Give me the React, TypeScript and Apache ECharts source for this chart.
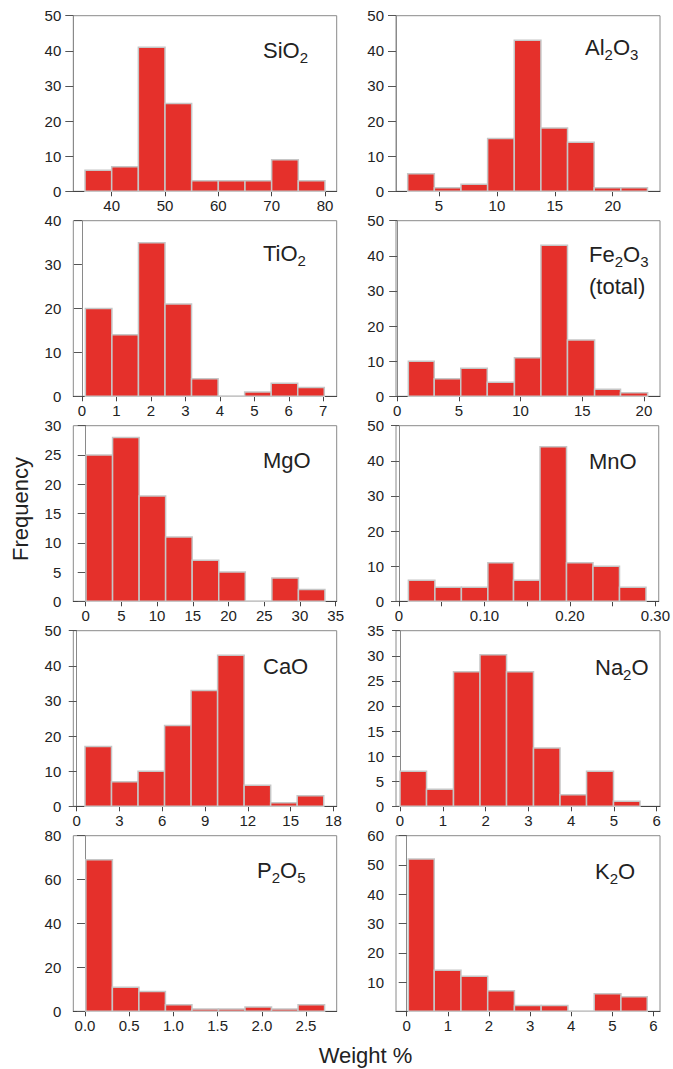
import React, { useEffect, useRef } from 'react';
import * as echarts from 'echarts';

// ---- data (bin edges, counts per bin) ----
const sio2Edges = [35, 40, 45, 50, 55, 60, 65, 70, 75, 80];
const sio2Counts = [6, 7, 41, 25, 3, 3, 3, 9, 3];
const sio2Ticks = [40, 50, 60, 70, 80];

const al2o3Edges = [2.3, 4.6, 6.9, 9.2, 11.5, 13.8, 16.1, 18.4, 20.7, 23.0];
const al2o3Counts = [5, 1, 2, 15, 43, 18, 14, 1, 1];
const al2o3Ticks = [5, 10, 15, 20];

const tio2Edges = [0.1, 0.87, 1.64, 2.41, 3.18, 3.95, 4.72, 5.49, 6.26, 7.03];
const tio2Counts = [20, 14, 35, 21, 4, 0, 1, 3, 2];
const tio2Ticks = [0, 1, 2, 3, 4, 5, 6, 7];

const fe2o3Edges = [0.9, 3.0, 5.15, 7.3, 9.5, 11.65, 13.8, 16.0, 18.1, 20.3];
const fe2o3Counts = [10, 5, 8, 4, 11, 43, 16, 2, 1];
const fe2o3Ticks = [0, 5, 10, 15, 20];

const mgoEdges = [0.04, 3.76, 7.48, 11.19, 14.91, 18.63, 22.35, 26.07, 29.79, 33.5];
const mgoCounts = [25, 28, 18, 11, 7, 5, 0, 4, 2];
const mgoTicks = [0, 5, 10, 15, 20, 25, 30, 35];

const mnoEdges = [0.011, 0.042, 0.073, 0.104, 0.134, 0.165, 0.196, 0.227, 0.258, 0.289];
const mnoCounts = [6, 4, 4, 11, 6, 44, 11, 10, 4];
const mnoTicks = [0, 0.05, 0.1, 0.15, 0.2, 0.25, 0.3];
const mnoLabels = [0, 0.1, 0.2, 0.3];

const caoEdges = [0.58, 2.44, 4.3, 6.16, 8.02, 9.88, 11.74, 13.6, 15.46, 17.32];
const caoCounts = [17, 7, 10, 23, 33, 43, 6, 1, 3];
const caoTicks = [0, 3, 6, 9, 12, 15, 18];

const na2oEdges = [0, 0.62, 1.25, 1.87, 2.49, 3.12, 3.74, 4.36, 4.99, 5.61];
const na2oCounts = [7, 3.4, 26.8, 30.2, 26.8, 11.6, 2.3, 7, 1];
const na2oTicks = [0, 1, 2, 3, 4, 5, 6];

const p2o5Edges = [0.01, 0.31, 0.61, 0.91, 1.21, 1.51, 1.81, 2.11, 2.41, 2.71];
const p2o5Counts = [69, 11, 9, 3, 1, 1, 2, 1, 3];
const p2o5Ticks = [0, 0.5, 1, 1.5, 2, 2.5];

const k2oEdges = [0.04, 0.67, 1.32, 1.97, 2.62, 3.27, 3.92, 4.56, 5.21, 5.85];
const k2oCounts = [52, 14, 12, 7, 2, 2, 0, 6, 5];
const k2oTicks = [0, 1, 2, 3, 4, 5, 6];

const yLabelTitle = 'Frequency';
const xLabelTitle = 'Weight %';

// ---- panel layout ----
type Panel = {
  label: string;
  edges: number[];
  counts: number[];
  ticks: number[];
  labels?: number[];
  fmt?: (v: number) => string;
  xMin: number;
  xMax: number;
  yMax: number;
  yInterval: number;
  hideZero?: boolean;
  col: number;
  row: number;
  labelLeft: number;
  labelTop: number;
};

const panels: Panel[] = [
  { label: '{a|SiO}{s|2}', edges: sio2Edges, counts: sio2Counts, ticks: sio2Ticks, xMin: 32.8, xMax: 82.2, yMax: 50, yInterval: 10, col: 0, row: 0, labelLeft: 263, labelTop: 39 },
  { label: '{a|Al}{s|2}{a|O}{s|3}', edges: al2o3Edges, counts: al2o3Counts, ticks: al2o3Ticks, xMin: 1.29, xMax: 24.08, yMax: 50, yInterval: 10, col: 1, row: 0, labelLeft: 585, labelTop: 36 },
  { label: '{a|TiO}{s|2}', edges: tio2Edges, counts: tio2Counts, ticks: tio2Ticks, xMin: -0.25, xMax: 7.39, yMax: 40, yInterval: 10, col: 0, row: 1, labelLeft: 263, labelTop: 242 },
  { label: '{a|Fe}{s|2}{a|O}{s|3}\n{b|(total)}', edges: fe2o3Edges, counts: fe2o3Counts, ticks: fe2o3Ticks, xMin: -0.1, xMax: 21.3, yMax: 50, yInterval: 10, col: 1, row: 1, labelLeft: 589, labelTop: 243 },
  { label: '{a|MgO}', edges: mgoEdges, counts: mgoCounts, ticks: mgoTicks, xMin: -1.74, xMax: 35.15, yMax: 30, yInterval: 5, col: 0, row: 2, labelLeft: 263, labelTop: 449 },
  { label: '{a|MnO}', edges: mnoEdges, counts: mnoCounts, ticks: mnoTicks, labels: mnoLabels, fmt: (v) => (v === 0 ? '0' : v.toFixed(2)), xMin: -0.0035, xMax: 0.3039, yMax: 50, yInterval: 10, col: 1, row: 2, labelLeft: 589, labelTop: 450 },
  { label: '{a|CaO}', edges: caoEdges, counts: caoCounts, ticks: caoTicks, xMin: -0.24, xMax: 18.23, yMax: 50, yInterval: 10, col: 0, row: 3, labelLeft: 263, labelTop: 655 },
  { label: '{a|Na}{s|2}{a|O}', edges: na2oEdges, counts: na2oCounts, ticks: na2oTicks, xMin: -0.094, xMax: 6.077, yMax: 35, yInterval: 5, col: 1, row: 3, labelLeft: 595, labelTop: 656 },
  { label: '{a|P}{s|2}{a|O}{s|5}', edges: p2o5Edges, counts: p2o5Counts, ticks: p2o5Ticks, fmt: (v) => v.toFixed(1), xMin: -0.132, xMax: 2.847, yMax: 80, yInterval: 20, col: 0, row: 4, labelLeft: 257, labelTop: 859 },
  { label: '{a|K}{s|2}{a|O}', edges: k2oEdges, counts: k2oCounts, ticks: k2oTicks, xMin: -0.26, xMax: 6.16, yMax: 60, yInterval: 10, hideZero: true, col: 1, row: 4, labelLeft: 595, labelTop: 860 },
];

const FONT = '"Liberation Sans", Arial, Helvetica, sans-serif';
const TXT = '#222';

export default function App() {
  const ref = useRef<HTMLDivElement>(null);
  useEffect(() => {
    document.body.style.margin = '0';
    if (!ref.current) return;
    const chart = echarts.init(ref.current, undefined, { renderer: 'svg' });

    const grids: any[] = [];
    const xAxes: any[] = [];
    const yAxes: any[] = [];
    const series: any[] = [];
    const titles: any[] = [];

    panels.forEach((p, i) => {
      const left = p.col === 0 ? 73.3 : 396;
      const width = p.col === 0 ? 263.4 : 264;
      const top = 15.7 + 205 * p.row;
      grids.push({ left, top, width, height: 175.6, show: true, borderColor: '#8a8a8a', borderWidth: 1, backgroundColor: 'transparent', containLabel: false });
      xAxes.push({
        type: 'value', gridIndex: i, min: p.xMin, max: p.xMax,
        splitLine: { show: false },
        axisLine: { show: true, onZero: false, lineStyle: { color: '#444', width: 1 } },
        axisTick: { show: true, inside: false, length: 5, customValues: p.ticks, lineStyle: { color: '#444' } },
        axisLabel: { show: true, margin: 7, customValues: p.labels || p.ticks, color: TXT, fontSize: 15, fontFamily: FONT, formatter: p.fmt ? (v: number) => p.fmt!(v) : (v: number) => String(v) },
      });
      yAxes.push({
        type: 'value', gridIndex: i, min: 0, max: p.yMax, interval: p.yInterval,
        splitLine: { show: false },
        axisLine: { show: true, lineStyle: { color: '#8a8a8a', width: 1 } },
        axisTick: { show: true, inside: false, length: 8, lineStyle: { color: '#555' } },
        axisLabel: { show: true, margin: 12, color: TXT, fontSize: 15, fontFamily: FONT, showMinLabel: !p.hideZero },
      });
      series.push({
        type: 'custom', xAxisIndex: i, yAxisIndex: i,
        encode: { x: [0, 1], y: 2 },
        data: p.counts.map((c, k) => [p.edges[k], p.edges[k + 1], c]),
        renderItem: (params: any, api: any) => {
          const a = api.coord([api.value(0), 0]);
          const b = api.coord([api.value(1), api.value(2)]);
          return {
            type: 'rect',
            shape: { x: a[0], y: b[1], width: b[0] - a[0], height: a[1] - b[1] },
            style: { fill: '#e5302b', stroke: '#c6c6c6', lineWidth: 1.5 },
          };
        },
      });
      titles.push({
        text: p.label, left: p.labelLeft, top: p.labelTop, padding: 0,
        textStyle: {
          fontWeight: 'normal',
          rich: {
            a: { fontSize: 22, lineHeight: 26, verticalAlign: 'top', color: TXT, fontFamily: FONT, fontWeight: 'normal' },
            s: { fontSize: 15, lineHeight: 15, verticalAlign: 'bottom', color: TXT, fontFamily: FONT, fontWeight: 'normal' },
            b: { fontSize: 22, lineHeight: 28, verticalAlign: 'bottom', color: TXT, fontFamily: FONT, fontWeight: 'normal' },
          },
        },
      });
    });

    chart.setOption({
      animation: false,
      backgroundColor: '#fff',
      title: titles,
      grid: grids,
      xAxis: xAxes,
      yAxis: yAxes,
      series,
      graphic: [
        { type: 'text', x: 20, y: 509, rotation: Math.PI / 2, style: { text: yLabelTitle, fontSize: 22, fontFamily: FONT, fill: TXT, align: 'center', verticalAlign: 'middle' } },
        { type: 'text', x: 365.5, y: 1055, style: { text: xLabelTitle, fontSize: 22, fontFamily: FONT, fill: TXT, align: 'center', verticalAlign: 'middle' } },
      ],
    });
    return () => chart.dispose();
  }, []);
  return <div ref={ref} style={{ width: 673, height: 1069 }} />;
}
